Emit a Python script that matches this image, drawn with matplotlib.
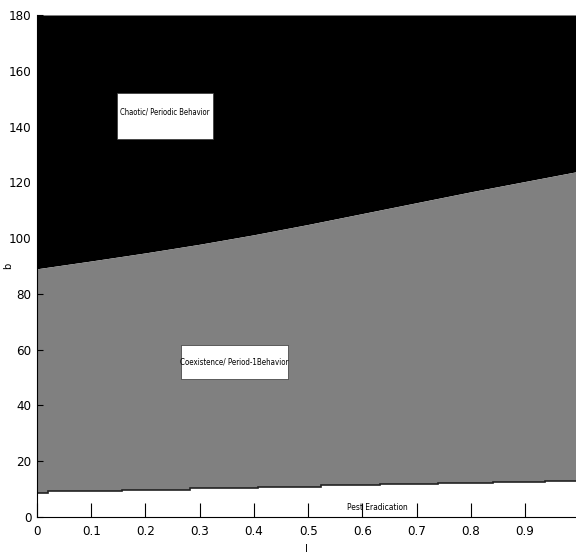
import numpy as np
import matplotlib
matplotlib.use("Agg")
import matplotlib.pyplot as plt
from matplotlib.patches import Rectangle

plt.rcParams['font.family'] = ['DejaVu Sans']
plt.rcParams['font.stretch'] = 'condensed'

# upper boundary (chaos onset) sampled along l
l_upper = [0.0, 0.1, 0.2, 0.3, 0.4, 0.5, 0.6, 0.7, 0.8, 0.9, 1.0]
b_upper = [89.0, 91.8, 94.7, 97.8, 101.2, 104.9, 108.8, 112.7, 116.6, 120.3, 124.0]

# lower boundary (pest eradication) is a staircase
l_steps = [0.0, 0.021, 0.156, 0.282, 0.408, 0.524, 0.633, 0.74, 0.841, 0.937, 1.0]
b_steps = [8.5, 9.2, 9.8, 10.3, 10.9, 11.4, 11.7, 12.1, 12.5, 13.0]

x_ticks = [0, 0.1, 0.2, 0.3, 0.4, 0.5, 0.6, 0.7, 0.8, 0.9]
y_ticks = [0, 20, 40, 60, 80, 100, 120, 140, 160, 180]

fig = plt.figure(figsize=(5.76, 5.57), dpi=100)
ax = fig.add_axes([37 / 576, 40 / 557, 539 / 576, 502 / 557])

ax.fill_between(l_upper, b_upper, 180, color='black', lw=0)
ax.fill_between(l_upper, 0, b_upper, color='#808080', lw=0)
ax.fill_between(l_steps, 0, b_steps + [b_steps[-1]], step='post', color='white', lw=0)
ax.stairs(b_steps, l_steps, baseline=None, color='#222222', lw=1.2)

# region labels
ax.add_patch(Rectangle((0.148, 135.5), 0.177, 16.5, facecolor='white',
                       edgecolor='#333333', lw=0.5, zorder=3))
ax.text(0.236, 145.2, 'Chaotic/ Periodic Behavior', ha='center', va='center',
        fontsize=5.5, zorder=4)
ax.add_patch(Rectangle((0.266, 49.5), 0.197, 12.2, facecolor='white',
                       edgecolor='#333333', lw=0.5, zorder=3))
ax.text(0.364, 55.6, 'Coexistence/ Period-1Behavior', ha='center', va='center',
        fontsize=5.7, zorder=4)
ax.text(0.628, 3.4, 'Pest Eradication', ha='center', va='center', fontsize=6,
        zorder=4)

ax.set_xlim(0, 0.994)
ax.set_ylim(0, 180)
ax.set_xticks(x_ticks)
ax.set_xticklabels(['0', '0.1', '0.2', '0.3', '0.4', '0.5', '0.6', '0.7', '0.8', '0.9'])
ax.set_yticks(y_ticks)
ax.tick_params(axis='x', direction='in', length=10, width=0.8, labelsize=9.5, pad=6)
ax.tick_params(axis='y', direction='in', length=4, width=0.8, labelsize=9.5, pad=4)
for side in ['top', 'right']:
    ax.spines[side].set_visible(False)
ax.set_xlabel('l', fontsize=8, labelpad=4)
ax.set_ylabel('b', fontsize=8)
ax.yaxis.set_label_coords(-0.045, 0.5)

fig.savefig('out.png', dpi=100)
